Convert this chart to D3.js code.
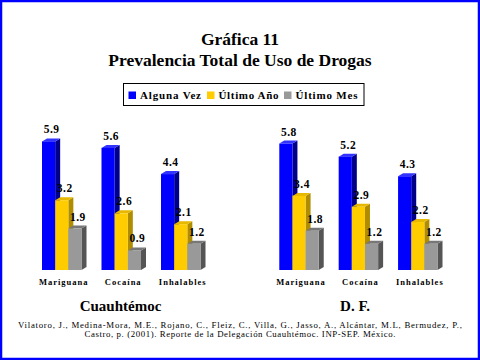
<!DOCTYPE html>
<html><head><meta charset="utf-8">
<script src="https://cdn.jsdelivr.net/npm/d3@7"></script>
<style>body{margin:0;background:#fff}svg{display:block}</style>
</head><body>
<script>
const categories = ["Mariguana", "Cocaína", "Inhalables"];
const seriesNames = ["Alguna Vez", "Último Año", "Último Mes"];
const cuauhtemocValues = [[5.9, 3.2, 1.9], [5.6, 2.6, 0.9], [4.4, 2.1, 1.2]];
const dfValues = [[5.8, 3.4, 1.8], [5.2, 2.9, 1.2], [4.3, 2.2, 1.2]];
const panelTitles = ["Cuauhtémoc", "D. F."];
const titleLines = ["Gráfica 11", "Prevalencia Total de Uso de Drogas"];
const citationLines = ["Vilatoro, J., Medina-Mora,  M.E., Rojano, C., Fleiz, C., Villa, G., Jasso, A., Alcántar, M.L, Bermudez, P.,",
  "Castro, p. (2001). Reporte de la Delegación Cuauhtémoc. INP-SEP. México."];

const W = 480, H = 360;
const front = ["#0000ff", "#ffcc00", "#999999"];
const side = ["#00008b", "#b08c00", "#555555"];
const topc = ["#3333ff", "#e6b800", "#777777"];
const serif = "Liberation Serif, Times New Roman, serif";

const svg = d3.select("body").append("svg").attr("width", W).attr("height", H);
svg.append("rect").attr("x", 1).attr("y", 1).attr("width", W - 2).attr("height", H - 2)
  .attr("fill", "#fff").attr("stroke", "#0000ff").attr("stroke-width", 2.5);

svg.selectAll("text.title").data(titleLines).enter().append("text")
  .attr("x", 240).attr("y", (d, i) => 45 + i * 21)
  .attr("text-anchor", "middle").attr("font-family", serif).attr("font-weight", "bold")
  .attr("font-size", 17.5).text(d => d);

const lg = svg.append("g");
lg.append("rect").attr("x", 123.5).attr("y", 83.5).attr("width", 240.5).attr("height", 22)
  .attr("fill", "#fff").attr("stroke", "#000").attr("stroke-width", 1);
const legX = [128.5, 207, 284];
const legW = [61, 60, 62];
seriesNames.forEach((s, i) => {
  lg.append("rect").attr("x", legX[i]).attr("y", 91.5).attr("width", 7.5).attr("height", 7.5).attr("fill", front[i]);
  lg.append("text").attr("x", legX[i] + 11.5).attr("y", 99).attr("font-family", serif)
    .attr("font-weight", "bold").attr("font-size", 11)
    .attr("textLength", legW[i]).attr("lengthAdjust", "spacing").text(s);
});

const y = d3.scaleLinear().domain([0, 6]).range([270, 270 - 6 * 21.8]);
const dx = 5, dy = 3;

function panel(values, x0, x1, title, titleX) {
  const x = d3.scaleBand().domain(categories).range([x0, x1]).paddingInner(0.336).paddingOuter(0);
  const xs = d3.scaleBand().domain(seriesNames).range([0, x.bandwidth()]);
  const g = svg.append("g");
  categories.forEach((c, ci) => {
    const gg = g.append("g").attr("transform", `translate(${x(c)},0)`);
    seriesNames.forEach((s, si) => {
      const v = values[ci][si];
      const bx = xs(s), bw = xs.bandwidth(), ty = y(v), by = y(0);
      gg.append("path").attr("d", `M${bx + bw},${ty} L${bx + bw + dx},${ty - dy} L${bx + bw + dx},${by - dy} L${bx + bw},${by} Z`)
        .attr("fill", side[si]);
      gg.append("path").attr("d", `M${bx},${ty} L${bx + dx},${ty - dy} L${bx + bw + dx},${ty - dy} L${bx + bw},${ty} Z`)
        .attr("fill", topc[si]);
      gg.append("rect").attr("x", bx).attr("y", ty).attr("width", bw).attr("height", by - ty).attr("fill", front[si]);
      gg.append("text").attr("x", bx + bw / 2 + 3).attr("y", ty - dy - 5)
        .attr("text-anchor", "middle").attr("font-family", serif).attr("font-weight", "bold")
        .attr("font-size", 11.5).attr("letter-spacing", 0.5).text(v.toFixed(1));
    });
    gg.append("text").attr("x", x.bandwidth() / 2 + 2).attr("y", 285)
      .attr("text-anchor", "middle").attr("font-family", serif).attr("font-weight", "bold")
      .attr("font-size", 8.5).attr("letter-spacing", 1).text(c);
  });
  svg.append("text").attr("x", titleX).attr("y", 311).attr("text-anchor", "middle")
    .attr("font-family", serif).attr("font-weight", "bold").attr("font-size", 15).text(title);
}
panel(cuauhtemocValues, 42, 200.5, panelTitles[0], 120.5);
panel(dfValues, 279.3, 437.5, panelTitles[1], 355);

const citeW = [444, 311];
svg.selectAll("text.cite").data(citationLines).enter().append("text")
  .attr("x", 240).attr("y", (d, i) => 328 + i * 8.5).attr("text-anchor", "middle")
  .attr("font-family", serif).attr("font-size", 8.8)
  .attr("textLength", (d, i) => citeW[i]).attr("lengthAdjust", "spacing").text(d => d);
</script>
</body></html>
